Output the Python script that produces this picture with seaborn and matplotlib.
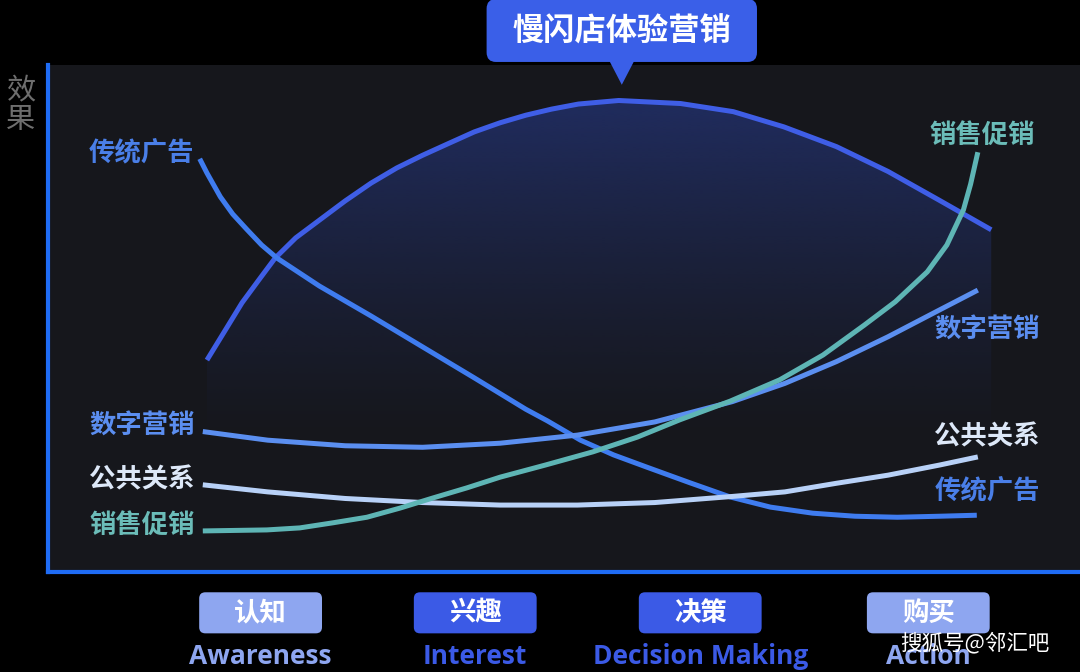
import numpy as np
import pandas as pd
import matplotlib
matplotlib.use("Agg")
import matplotlib.pyplot as plt
import matplotlib.transforms as mtransforms
from matplotlib.colors import to_rgb
from matplotlib.patches import FancyBboxPatch, Polygon
import seaborn as sns

# 曲线数据（读图估计；横轴 0-100 表示决策进程，纵轴 0-100 表示效果）
arc_x = [15.4, 17.3, 18.8, 20.5, 22.0, 24.0, 26.3, 28.8, 31.3, 33.8, 36.3, 38.9, 41.3, 43.8,
         46.3, 48.8, 51.4, 55.3, 61.3, 66.4, 71.3, 76.4, 81.4, 86.3, 91.4]
arc_y = [41.8, 48.1, 53.1, 57.8, 61.9, 65.9, 69.4, 73.2, 76.7, 79.7, 82.2, 84.6, 86.8, 88.6,
         90.1, 91.3, 92.3, 93.0, 92.4, 90.8, 87.8, 83.9, 79.0, 73.4, 67.5]

ad_x = [14.7, 15.4, 16.7, 17.9, 19.3, 20.7, 22.2, 26.3, 31.3, 36.3, 41.3, 46.3, 48.4, 51.6,
        54.8, 58.0, 62.2, 66.1, 70.0, 74.1, 78.2, 82.3, 86.4, 90.0]
ad_y = [81.5, 78.7, 74.0, 70.6, 67.5, 64.5, 61.9, 56.4, 50.5, 44.4, 38.3, 32.1, 29.8, 26.0,
        23.1, 20.7, 17.6, 14.8, 12.8, 11.6, 11.0, 10.8, 11.0, 11.2]

digital_x = [15.0, 21.3, 28.8, 36.3, 43.8, 51.3, 58.8, 66.3, 71.4, 76.4, 81.4, 86.4, 90.1]
digital_y = [27.7, 26.0, 24.9, 24.6, 25.4, 27.0, 29.6, 33.6, 37.2, 41.5, 46.4, 51.7, 55.6]

pr_x = [15.0, 21.3, 28.8, 36.3, 43.8, 51.3, 58.8, 66.3, 71.4, 76.4, 81.4, 86.4, 90.1]
pr_y = [17.2, 15.8, 14.5, 13.7, 13.2, 13.2, 13.7, 14.9, 15.8, 17.5, 19.1, 21.1, 22.7]

promo_x = [15.0, 21.2, 24.4, 27.6, 30.9, 34.1, 37.3, 40.6, 43.8, 48.2, 52.8, 57.1, 61.2,
           66.1, 70.9, 75.1, 79.1, 82.1, 85.2, 87.1, 88.7, 89.4, 90.1]
promo_y = [8.1, 8.3, 8.7, 9.7, 10.8, 12.6, 14.6, 16.6, 18.7, 21.1, 23.7, 26.6, 30.0,
           33.7, 37.9, 42.8, 48.7, 53.3, 59.2, 64.5, 71.4, 76.5, 82.8]

title = "慢闪店体验营销"
stages = ["认知", "兴趣", "决策", "购买"]
stages_en = ["Awareness", "Interest", "Decision Making", "Action"]
stage_ticks = [20.6, 41.4, 63.2, 85.3]

series = {
    "慢闪店体验营销": (arc_x, arc_y),
    "传统广告": (ad_x, ad_y),
    "数字营销": (digital_x, digital_y),
    "公共关系": (pr_x, pr_y),
    "销售促销": (promo_x, promo_y),
}
df = pd.concat(
    [pd.DataFrame({"x": xs, "y": ys, "name": k}) for k, (xs, ys) in series.items()],
    ignore_index=True,
)

line_colors = {
    "慢闪店体验营销": "#3f5ee6",
    "传统广告": "#3f7cef",
    "数字营销": "#5b8ff0",
    "公共关系": "#b8d1f7",
    "销售促销": "#5eb5b5",
}
label_colors = {
    "传统广告": "#4a7fe8",
    "数字营销": "#5b8ef0",
    "公共关系": "#dde8f8",
    "销售促销": "#6bbcb8",
}

sns.set_theme(style="dark")
plt.rcParams["font.family"] = ["Noto Sans CJK SC", "DejaVu Sans"]

fig = plt.figure(figsize=(10.8, 6.72), dpi=100, facecolor="black")
ax = fig.add_axes([48 / 1080, 100 / 672, 1032 / 1080, 507 / 672])
ax.set_facecolor("#16171c")

# 弧线下方的渐变填充
fill = ax.fill_between(arc_x, arc_y, 0, color="none", lw=0)
n = 256
yy = np.linspace(max(arc_y), 0, n)
alpha = np.clip((yy - 26) / (max(arc_y) - 26), 0, 1) ** 1.2 * 0.85
rgba = np.zeros((n, 1, 4))
rgba[..., :3] = to_rgb("#22306a")
rgba[:, 0, 3] = alpha
im = ax.imshow(rgba, extent=[min(arc_x), max(arc_x), 0, max(arc_y)],
               aspect="auto", origin="upper", zorder=1, interpolation="bilinear")
im.set_clip_path(fill.get_paths()[0], transform=ax.transData)

sns.lineplot(data=df, x="x", y="y", hue="name", palette=line_colors,
             linewidth=3.6, legend=False, ax=ax, zorder=3,
             solid_capstyle="butt", solid_joinstyle="round", estimator=None, sort=False)

ax.set_xlim(0, 100)
ax.set_ylim(0, 100)
ax.set_xlabel("")
ax.set_ylabel("")
ax.set_xticks([])
ax.set_yticks([])
for s in ["top", "right"]:
    ax.spines[s].set_visible(False)
for s in ["left", "bottom"]:
    ax.spines[s].set_visible(True)
    ax.spines[s].set_color("#1f6cf5")
    ax.spines[s].set_linewidth(3)

# 曲线两端的文字标签
lab_kw = dict(fontsize=19, fontweight="bold", va="center")
for name in ["传统广告", "数字营销", "公共关系", "销售促销"]:
    ax.text(14.2, series[name][1][0] + 1.0, name, ha="right", color=label_colors[name], **lab_kw)
ax.text(promo_x[-1] + 0.4, promo_y[-1] + 3.4, "销售促销", ha="center", color=label_colors["销售促销"], **lab_kw)
ax.text(85.9, digital_y[-1] - 7.9, "数字营销", ha="left", color=label_colors["数字营销"], **lab_kw)
ax.text(85.9, pr_y[-1] + 3.9, "公共关系", ha="left", color=label_colors["公共关系"], **lab_kw)
ax.text(85.9, ad_y[-1] + 4.6, "传统广告", ha="left", color=label_colors["传统广告"], **lab_kw)

# 顶部标题气泡，指向弧线最高点
trans = mtransforms.blended_transform_factory(ax.transData, ax.transAxes)
peak = int(np.argmax(arc_y))
px = arc_x[peak] + 0.3
box_w = 26.2
ax.add_patch(FancyBboxPatch((px - box_w / 2, 1.006), box_w, 0.124,
                            boxstyle="round,pad=0,rounding_size=0.9", mutation_aspect=0.021,
                            transform=trans, clip_on=False, fc="#3a5fe8", ec="none", zorder=5))
ax.add_patch(Polygon([(px - 1.2, 1.008), (px + 1.2, 1.008), (px, 0.961)], closed=True,
                     transform=trans, clip_on=False, fc="#3a5fe8", ec="none", zorder=5))
ax.text(px, 1.066, title, transform=trans, ha="center", va="center",
        fontsize=22.5, fontweight="bold", color="white", zorder=6, clip_on=False)

# 底部阶段标签
box_fc = ["#8ea6f0", "#3b5ae6", "#3b5ae6", "#8ea6f0"]
for pos, cn, en, c in zip(stage_ticks, stages, stages_en, box_fc):
    ax.add_patch(FancyBboxPatch((pos - 5.95, -0.121), 11.9, 0.081,
                                boxstyle="round,pad=0,rounding_size=0.6", mutation_aspect=0.02,
                                transform=trans, clip_on=False, fc=c, ec="none"))
    ax.text(pos, -0.081, cn, transform=trans, ha="center", va="center",
            fontsize=19, fontweight="bold", color="white", clip_on=False)
    ax.text(pos, -0.166, en, transform=trans, ha="center", va="center",
            fontsize=19, fontweight="bold", color=c, family=["Open Sans", "DejaVu Sans"],
            clip_on=False)

fig.text(21 / 1080, 1 - 105 / 672, "效\n果", ha="center", va="center",
         fontsize=21, color="#6e6e6e", linespacing=1.0)
fig.text(1050 / 1080, 1 - 643 / 672, "搜狐号@邻汇吧", ha="right", va="center",
         fontsize=15.5, color="white")

fig.savefig("out.png", dpi=100, facecolor=fig.get_facecolor())
